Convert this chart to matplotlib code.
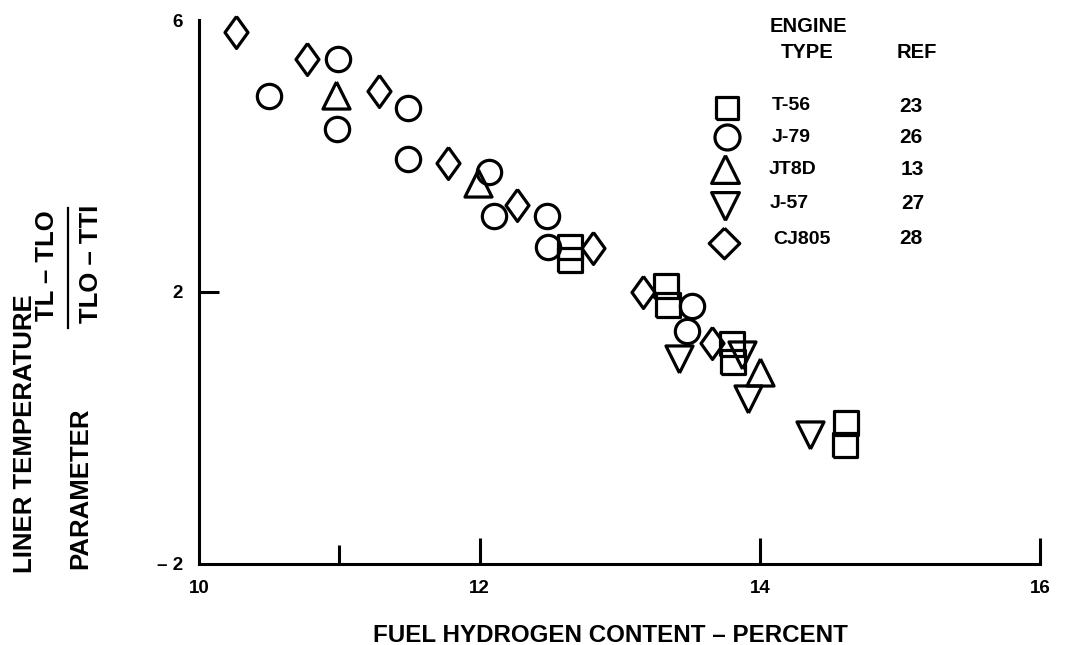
import matplotlib
matplotlib.use('Agg')
import matplotlib.pyplot as plt
from matplotlib.lines import Line2D

plt.rcParams['font.family'] = ['Liberation Sans', 'DejaVu Sans']
plt.rcParams['font.weight'] = 'bold'

# data (x = fuel hydrogen %, y = liner temperature parameter)
t56_x = [12.645, 12.645, 13.330, 13.346, 13.799, 13.810, 14.612, 14.607]
t56_y = [2.667, 2.471, 2.093, 1.813, 1.230, 0.969, 0.075, -0.258]

j79_x = [10.500, 10.988, 10.981, 11.491, 11.491, 12.069, 12.103, 12.479, 12.490, 13.518, 13.478]
j79_y = [4.891, 5.427, 4.401, 4.705, 3.959, 3.772, 3.119, 3.119, 2.667, 1.798, 1.426]

jt8d_x = [10.973, 11.991, 14.001]
jt8d_y = [4.901, 3.610, 0.826]

j57_x = [13.425, 13.874, 13.917, 14.358]
j57_y = [1.009, 1.072, 0.420, -0.102]

cj805_x = [10.260, 10.769, 11.280, 11.777, 12.265, 12.811, 13.168, 13.656]
cj805_y = [5.825, 5.427, 4.965, 3.895, 3.281, 2.644, 2.000, 1.244]

engine_types = ['T-56', 'J-79', 'JT8D', 'J-57', 'CJ805']
refs = ['23', '26', '13', '27', '28']

x_ticks = [10, 12, 14, 16]
y_ticks = [-2, 2, 6]
y_tick_labels = ['\u2013 2', '2', '6']

W, H = 1065, 645

# marker shapes
square = [(-1, -1), (1, -1), (1, 1), (-1, 1), (-1, -1)]
up = [(0, 1), (-1, -1), (1, -1), (0, 1)]
down = [(0, -1), (-1, 1), (1, 1), (0, -1)]
thin_diamond = [(0, 1), (0.72, 0), (0, -1), (-0.72, 0), (0, 1)]
diamond = [(0, 1), (1, 0), (0, -1), (-1, 0), (0, 1)]

fig = plt.figure(figsize=(W / 100, H / 100), dpi=100)
ax = fig.add_axes([199.3 / W, (H - 563.6) / H, 840.9 / W, 543.2 / H])

kw = dict(ls='none', mfc='none', mec='black', mew=2.3, clip_on=False)
ax.plot(t56_x, t56_y, marker=square, ms=17, **kw)
ax.plot(j79_x, j79_y, marker='o', ms=17.5, **kw)
ax.plot(jt8d_x, jt8d_y, marker=up, ms=19.5, **kw)
ax.plot(j57_x, j57_y, marker=down, ms=19.5, **kw)
ax.plot(cj805_x, cj805_y, marker=thin_diamond, ms=23, **kw)

ax.set_xlim(10, 16)
ax.set_ylim(-2, 6)
for s in ['top', 'right']:
    ax.spines[s].set_visible(False)
for s in ['left', 'bottom']:
    ax.spines[s].set_linewidth(2.2)

ax.set_xticks(x_ticks)
ax.set_xticklabels([str(v) for v in x_ticks])
ax.set_xticks([11], minor=True)
ax.set_yticks(y_ticks)
ax.set_yticklabels(y_tick_labels)
ax.tick_params(axis='x', which='major', direction='in', length=18.5, width=2.2,
               pad=12, labelsize=13.5)
ax.tick_params(axis='x', which='minor', direction='in', length=14, width=2.2)
ax.tick_params(axis='y', which='major', direction='in', length=14.5, width=2.2,
               pad=12, labelsize=13.5)
ax.yaxis.get_major_ticks()[2].tick1line.set_visible(False)
ax.yaxis.get_major_ticks()[0].tick1line.set_visible(False)
ax.xaxis.get_major_ticks()[0].tick1line.set_visible(False)

# y axis title
fig.text(25 / W, 1 - 434 / H, 'LINER TEMPERATURE', rotation=90, ha='center',
         va='center', fontsize=18.5)
fig.text(80 / W, 1 - 488 / H, 'PARAMETER', rotation=90, ha='center',
         va='center', fontsize=18.5)
fig.text(47 / W, 1 - 266 / H, 'TL \u2013 TLO', rotation=90, ha='center',
         va='center', fontsize=18.5)
fig.text(91 / W, 1 - 264 / H, 'TLO \u2013 TTI', rotation=90, ha='center',
         va='center', fontsize=18.5)
fig.add_artist(Line2D([68 / W, 68 / W], [1 - 208 / H, 1 - 328 / H],
                      color='black', lw=1.6))

# x axis title
fig.text(610 / W, 1 - 635 / H, 'FUEL HYDROGEN CONTENT \u2013 PERCENT',
         ha='center', va='center', fontsize=17.4)

# legend
fig.text(808 / W, 1 - 27 / H, 'ENGINE', ha='center', va='center', fontsize=14.5)
fig.text(807 / W, 1 - 53 / H, 'TYPE', ha='center', va='center', fontsize=14.5)
fig.text(917 / W, 1 - 53 / H, 'REF', ha='center', va='center', fontsize=14.5)

leg_markers = [(square, 16.5), ('o', 18), (up, 20), (down, 20), (diamond, 22)]
leg_mx = [727, 727, 725, 725, 724]
leg_my = [108, 137, 169, 206, 243]
leg_tx = [772, 772, 769, 770, 773]
leg_ty = [106, 137, 169, 204, 239]
leg_rx = [911, 911, 912, 913, 911]
for i, name in enumerate(engine_types):
    m, ms = leg_markers[i]
    ax.plot([leg_mx[i] / W], [1 - leg_my[i] / H], marker=m, ms=ms,
            transform=fig.transFigure, **kw)
    fig.text(leg_tx[i] / W, 1 - leg_ty[i] / H, name, ha='left', va='center',
             fontsize=14)
    fig.text(leg_rx[i] / W, 1 - leg_ty[i] / H, refs[i], ha='center',
             va='center', fontsize=15)

fig.savefig('out.png', dpi=100)
